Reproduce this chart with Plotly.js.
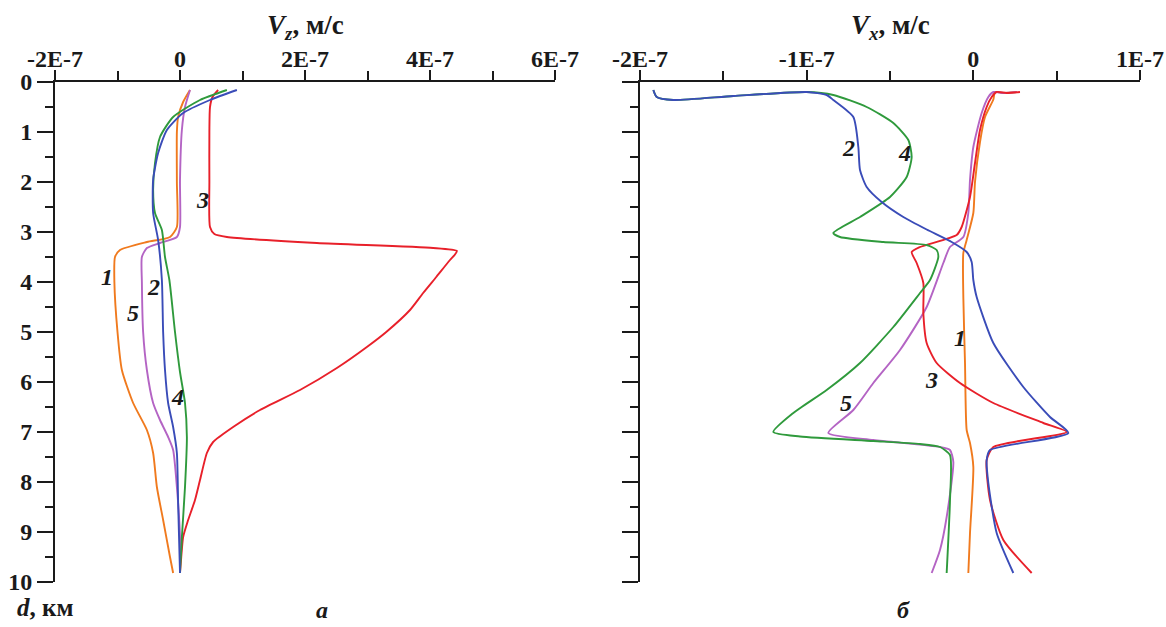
<!DOCTYPE html>
<html>
<head>
<meta charset="utf-8">
<script src="https://cdn.plot.ly/plotly-3.0.1.min.js"></script>
<style>html,body{margin:0;padding:0;background:#fff;}#chart{width:1166px;height:627px;}</style>
</head>
<body>
<div id="chart"></div>
<script>
// Values in units of 1E-7 m/s; depth in km
// Panel a (Vz)
const aD1 = [0.16,0.4,0.7,1.0,2.0,2.9,3.1,3.2,3.36,3.5,4.0,5.0,5.76,6.42,6.96,7.42,8.1,8.76,9.5,9.82];
const aV1 = [0.16,0.05,-0.03,-0.05,-0.05,-0.05,-0.16,-0.53,-0.96,-1.04,-1.05,-1.0,-0.93,-0.75,-0.53,-0.43,-0.37,-0.27,-0.16,-0.11];
const aD2 = [0.16,0.36,0.62,0.96,1.42,1.96,2.62,3.16,3.96,5.0,5.76,6.42,6.9,7.42,8.42,9.82];
const aV2 = [0.91,0.48,0.05,-0.21,-0.35,-0.43,-0.43,-0.35,-0.29,-0.27,-0.24,-0.19,-0.11,-0.05,-0.03,0.0];
const aD3 = [0.16,0.3,0.5,1.0,2.0,2.9,3.04,3.1,3.22,3.32,3.38,3.45,3.56,3.9,4.22,4.56,5.0,5.3,5.72,6.16,6.56,6.9,7.2,7.42,7.96,8.36,8.8,9.1,9.5,9.82];
const aV3 = [0.61,0.52,0.48,0.47,0.47,0.48,0.55,0.75,2.19,4.05,4.43,4.4,4.32,4.1,3.89,3.68,3.3,2.99,2.51,1.92,1.28,0.85,0.53,0.43,0.32,0.24,0.12,0.05,0.02,0.0];
const aD4 = [0.16,0.36,0.7,1.1,1.62,2.16,2.62,2.96,3.5,3.96,5.0,5.8,6.42,7.1,8.1,9.1,9.82];
const aV4 = [0.75,0.32,-0.11,-0.32,-0.4,-0.43,-0.4,-0.29,-0.24,-0.17,-0.08,0.0,0.08,0.11,0.08,0.03,0.0];
const aD5 = [0.16,0.5,0.96,1.96,2.9,3.1,3.22,3.32,3.5,4.0,5.0,5.76,6.42,6.76,7.1,7.36,8.1,9.1,9.82];
const aV5 = [0.16,0.08,0.03,0.0,0.0,-0.05,-0.32,-0.53,-0.61,-0.61,-0.59,-0.53,-0.43,-0.32,-0.19,-0.11,-0.05,0.0,0.0];

// Panel b (Vx)
const bD1 = [0.2,0.22,0.2,0.35,0.7,1.2,2.0,2.62,3.16,3.42,4.3,5.62,6.96,7.22,7.7,9.02,9.82];
const bV1 = [0.26,0.18,0.13,0.12,0.07,0.04,0.01,0.0,-0.04,-0.06,-0.06,-0.05,-0.04,-0.02,0.0,-0.02,-0.03];
const bD2 = [0.16,0.3,0.36,0.28,0.2,0.26,0.36,0.7,1.3,1.76,2.1,2.4,2.7,2.95,3.2,3.4,3.6,3.96,4.3,5.22,6.1,6.7,7.02,7.36,7.56,8.02,9.02,9.82];
const bV2 = [-1.92,-1.9,-1.8,-1.44,-1.0,-0.88,-0.84,-0.72,-0.69,-0.68,-0.64,-0.55,-0.42,-0.28,-0.13,-0.04,-0.01,0.0,0.02,0.12,0.3,0.46,0.57,0.1,0.08,0.09,0.14,0.24];
const bD3 = [0.2,0.22,0.2,0.3,0.5,0.96,1.62,2.3,2.9,3.06,3.3,3.4,3.62,4.02,4.62,5.22,5.62,6.02,6.42,6.82,7.0,7.3,7.56,8.36,9.16,9.82];
const bV3 = [0.28,0.2,0.14,0.11,0.08,0.04,0.01,-0.02,-0.07,-0.1,-0.32,-0.37,-0.34,-0.3,-0.3,-0.28,-0.22,-0.08,0.12,0.42,0.56,0.12,0.08,0.1,0.18,0.35];
const bD4 = [0.16,0.3,0.36,0.28,0.2,0.26,0.5,0.82,1.16,1.5,1.9,2.3,2.7,3.02,3.1,3.2,3.26,3.36,3.5,3.96,4.22,4.9,5.62,6.16,6.62,7.0,7.09,7.18,7.24,7.3,7.46,8.36,9.82];
const bV4 = [-1.92,-1.9,-1.8,-1.44,-1.0,-0.84,-0.64,-0.48,-0.39,-0.37,-0.4,-0.5,-0.68,-0.84,-0.8,-0.54,-0.28,-0.22,-0.21,-0.26,-0.32,-0.48,-0.68,-0.88,-1.08,-1.2,-1.04,-0.6,-0.32,-0.2,-0.14,-0.14,-0.16];
const bD5 = [0.2,0.22,0.2,0.3,0.62,1.3,1.96,2.62,3.1,3.3,3.62,4.5,5.36,6.02,6.56,7.02,7.16,7.3,7.36,7.6,8.7,9.36,9.82];
const bV5 = [0.26,0.18,0.12,0.09,0.05,0.0,-0.02,-0.03,-0.06,-0.14,-0.18,-0.28,-0.44,-0.6,-0.72,-0.87,-0.6,-0.2,-0.14,-0.12,-0.16,-0.2,-0.25];

const xTickValsA = [-2,0,2,4,6];
const xTickTextA = ['-2E-7','0','2E-7','4E-7','6E-7'];
const xTickValsB = [-2,-1,0,1];
const xTickTextB = ['-2E-7','-1E-7','0','1E-7'];
const yTickVals = [0,1,2,3,4,5,6,7,8,9,10];
const yTickText = ['0','1','2','3','4','5','6','7','8','9','10'];

const C1 = '#f07a1e', C2 = '#3a4cb8', C3 = '#e8202a', C4 = '#2f9a3c', C5 = '#b464c4';
const LW = 1.9;

function tr(v, d, color, xa, ya) {
  return {x: v, y: d, type: 'scatter', mode: 'lines', line: {color: color, width: LW, shape: 'spline', smoothing: 0.6},
          xaxis: xa, yaxis: ya, hoverinfo: 'skip', showlegend: false};
}

const data = [
  tr(aV1, aD1, C1, 'x', 'y'),
  tr(aV5, aD5, C5, 'x', 'y'),
  tr(aV3, aD3, C3, 'x', 'y'),
  tr(aV4, aD4, C4, 'x', 'y'),
  tr(aV2, aD2, C2, 'x', 'y'),
  tr(bV1, bD1, C1, 'x2', 'y2'),
  tr(bV5, bD5, C5, 'x2', 'y2'),
  tr(bV3, bD3, C3, 'x2', 'y2'),
  tr(bV4, bD4, C4, 'x2', 'y2'),
  tr(bV2, bD2, C2, 'x2', 'y2')
];

const FAM = 'Liberation Serif, Times New Roman, serif';
const tickFont = {family: FAM, size: 24, color: '#1a1a1a', weight: 'bold'};
const axCommon = {showline: true, linewidth: 2, linecolor: '#1a1a1a', ticks: 'outside', tickwidth: 2, tickcolor: '#1a1a1a',
  showgrid: false, zeroline: false, fixedrange: true, tickfont: tickFont, tickmode: 'array'};

const yDom = [45/627, 545/627];
const layout = {
  width: 1166, height: 627,
  margin: {l: 0, r: 0, t: 0, b: 0},
  paper_bgcolor: '#ffffff', plot_bgcolor: '#ffffff',
  xaxis: Object.assign({}, axCommon, {domain: [55/1166, 555/1166], range: [-2, 6], side: 'top', anchor: 'y',
    tickvals: xTickValsA, ticktext: xTickTextA, ticklen: 10, ticklabelstandoff: -7,
    minor: {tickmode: 'array', tickvals: [-1,1,3,5], ticklen: 9, tickwidth: 2, tickcolor: '#1a1a1a', ticks: 'outside'}}),
  yaxis: Object.assign({}, axCommon, {domain: yDom, range: [10, 0], anchor: 'x',
    tickvals: yTickVals, ticktext: yTickText, ticklen: 16,
    minor: {tickmode: 'array', tickvals: [0.5,1.5,2.5,3.5,4.5,5.5,6.5,7.5,8.5,9.5], ticklen: 8, tickwidth: 2, tickcolor: '#1a1a1a', ticks: 'outside'}}),
  xaxis2: Object.assign({}, axCommon, {domain: [640/1166, 1140/1166], range: [-2, 1], side: 'top', anchor: 'y2',
    tickvals: xTickValsB, ticktext: xTickTextB, ticklen: 10, ticklabelstandoff: -7,
    minor: {tickmode: 'array', tickvals: [-1.5,-0.5,0.5], ticklen: 9, tickwidth: 2, tickcolor: '#1a1a1a', ticks: 'outside'}}),
  yaxis2: Object.assign({}, axCommon, {domain: yDom, range: [10, 0], anchor: 'x2',
    tickvals: yTickVals, ticktext: yTickText, showticklabels: false, ticklen: 16,
    minor: {tickmode: 'array', tickvals: [0.5,1.5,2.5,3.5,4.5,5.5,6.5,7.5,8.5,9.5], ticklen: 8, tickwidth: 2, tickcolor: '#1a1a1a', ticks: 'outside'}}),
  annotations: []
};

function ann(text, px, py, size, opts) {
  return Object.assign({text: text, x: px/1166, y: 1 - py/627, xref: 'paper', yref: 'paper', showarrow: false,
    xanchor: 'center', yanchor: 'middle', borderpad: 0, font: {family: FAM, size: size, color: '#1a1a1a', weight: 'bold'}}, opts || {});
}
layout.annotations.push(ann('<i>V</i><sub><i>z</i></sub>, м/с', 305, 27, 27));
layout.annotations.push(ann('<i>V</i><sub><i>x</i></sub>, м/с', 890, 27, 27));
layout.annotations.push(ann('<i>d</i>, км', 45, 607, 25));
layout.annotations.push(ann('<i>а</i>', 322, 610, 24));
layout.annotations.push(ann('<i>б</i>', 903, 610, 24));
// curve labels
const labA = [['1',107,277],['2',153,287],['3',202,200],['4',177,397],['5',133,313]];
const labB = [['2',848,148],['4',904,153],['1',960,338],['3',931,380],['5',846,403]];
labA.concat(labB).forEach(l => layout.annotations.push(ann('<i>' + l[0] + '</i>', l[1], l[2], 24)));

Plotly.newPlot('chart', data, layout, {staticPlot: true, displayModeBar: false});
</script>
</body>
</html>
